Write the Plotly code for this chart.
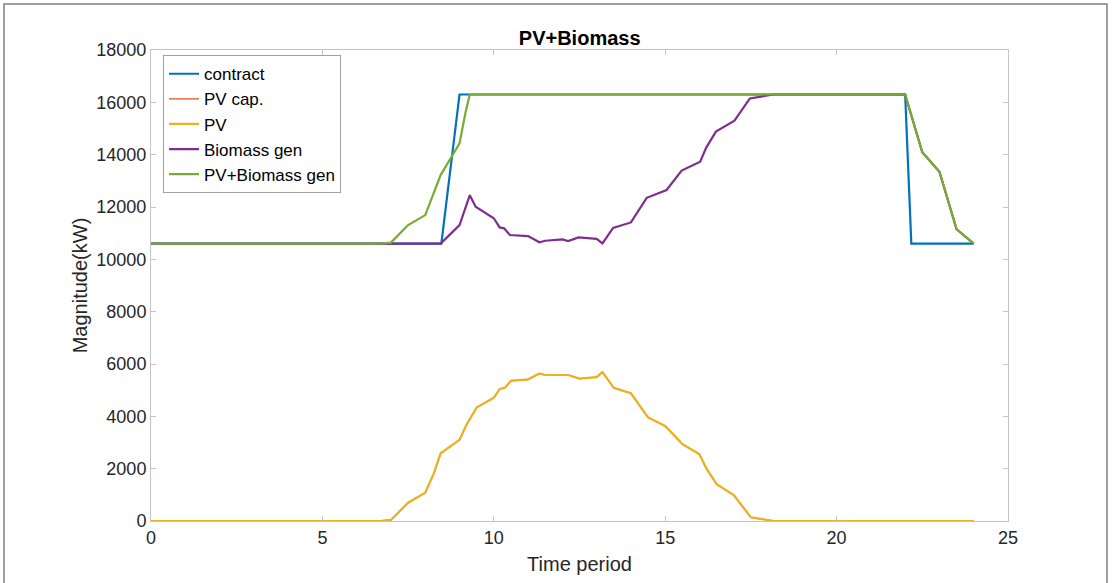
import plotly.graph_objects as go

# ---- data ----
contract_t = [0, 8.47, 9.0, 22.0, 22.18, 24.0]
contract_v = [10600, 10600, 16300, 16300, 10600, 10600]

pv_t = [0, 6.67, 7.0, 7.5, 8.0, 8.25, 8.45, 9.0, 9.2, 9.5, 10.0, 10.17, 10.33, 10.5,
        11.0, 11.33, 11.5, 12.0, 12.17, 12.5, 13.0, 13.17, 13.5, 14.0, 14.5, 15.0,
        15.5, 16.0, 16.2, 16.5, 17.0, 17.5, 18.17, 24.0]
pv_v = [0, 0, 40, 700, 1080, 1820, 2590, 3100, 3670, 4340, 4710, 5040, 5100, 5360,
        5410, 5640, 5580, 5570, 5580, 5440, 5500, 5690, 5090, 4880, 3960, 3630,
        2940, 2550, 2010, 1410, 990, 140, 0, 0]

pvcap_t = [0, 6.67, 7.0, 7.5, 8.0, 8.25, 8.45, 9.0, 9.2, 9.5, 10.0, 10.17, 10.33, 10.5,
           11.0, 11.33, 11.5, 12.0, 12.17, 12.5, 13.0, 13.17, 13.5, 14.0, 14.5, 15.0,
           15.5, 16.0, 16.2, 16.5, 17.0, 17.5, 18.17, 24.0]
pvcap_v = [0, 0, 40, 700, 1080, 1820, 2590, 3100, 3670, 4340, 4710, 5040, 5100, 5360,
           5410, 5640, 5580, 5570, 5580, 5440, 5500, 5690, 5090, 4880, 3960, 3630,
           2940, 2550, 2010, 1410, 990, 140, 0, 0]

bio_t = [0, 8.45, 9.0, 9.3, 9.47, 10.0, 10.17, 10.3, 10.47, 11.0, 11.33, 11.5, 12.0,
         12.17, 12.47, 13.0, 13.17, 13.48, 14.0, 14.46, 15.04, 15.48, 16.02, 16.2,
         16.48, 17.02, 17.47, 18.15, 22.0, 22.5, 23.0, 23.5, 24.0]
bio_v = [10600, 10600, 11310, 12450, 12010, 11570, 11220, 11185, 10930, 10890, 10650,
         10710, 10760, 10700, 10840, 10780, 10610, 11200, 11410, 12350, 12650, 13390,
         13730, 14280, 14880, 15300, 16150, 16300, 16300, 14090, 13350, 11150, 10600]

total_t = [0, 6.67, 7.0, 7.5, 8.0, 8.25, 8.45, 9.0, 9.17, 9.3, 22.0, 22.5, 23.0, 23.5, 24.0]
total_v = [10600, 10600, 10640, 11310, 11690, 12520, 13220, 14430, 15580, 16300, 16300,
           14090, 13350, 11150, 10600]

x_ticks = [0, 5, 10, 15, 20, 25]
x_labels = ["0", "5", "10", "15", "20", "25"]
y_ticks = [0, 2000, 4000, 6000, 8000, 10000, 12000, 14000, 16000, 18000]
y_labels = ["0", "2000", "4000", "6000", "8000", "10000", "12000", "14000", "16000", "18000"]

series = [
    ("contract", contract_t, contract_v, "#0072BD", 2.2),
    ("PV cap.", pvcap_t, pvcap_v, "#D95319", 1.4),
    ("PV", pv_t, pv_v, "#EDB120", 2.2),
    ("Biomass gen", bio_t, bio_v, "#7E2F8E", 2.2),
    ("PV+Biomass gen", total_t, total_v, "#77AC30", 2.2),
]

fig = go.Figure()
for name, t, v, c, w in series:
    fig.add_trace(go.Scatter(x=t, y=v, mode="lines", name=name,
                             line=dict(color=c, width=w)))

axis_common = dict(showline=True, linecolor="#c4c4c4", linewidth=1, mirror="ticks",
                   ticks="inside", ticklen=5, tickcolor="#c4c4c4", showgrid=False,
                   zeroline=False,
                   tickfont=dict(family="Liberation Sans, Arial", size=18, color="#262626"))

fig.update_layout(
    width=1112, height=583,
    margin=dict(l=151, r=104, t=50, b=62),
    paper_bgcolor="white", plot_bgcolor="white",
    font=dict(family="Liberation Sans, Arial", color="#262626"),
    title=dict(text="<b>PV+Biomass</b>", x=0.5213, xanchor="center", y=0.935, yanchor="middle",
               font=dict(size=20, color="black")),
    xaxis=dict(range=[0, 25], tickmode="array", tickvals=x_ticks, ticktext=x_labels,
               title=dict(text="Time period", font=dict(size=20, color="#262626"), standoff=10),
               **axis_common),
    yaxis=dict(range=[0, 18000], tickmode="array", tickvals=y_ticks, ticktext=y_labels,
               title=dict(text="Magnitude(kW)", font=dict(size=20, color="#262626"), standoff=3),
               **axis_common),
    legend=dict(x=0.014, y=0.989, xanchor="left", yanchor="top",
                bgcolor="white", bordercolor="#a0a0a0", borderwidth=1,
                font=dict(size=17, color="black"), tracegroupgap=0,
                itemwidth=30),
    showlegend=True,
    shapes=[dict(type="rect", xref="paper", yref="paper",
                 x0=(4 - 151) / 857, x1=(1107 - 151) / 857,
                 y0=(521 - 586) / 471, y1=(521 - 4) / 471,
                 line=dict(color="#808080", width=1.5), fillcolor="rgba(0,0,0,0)",
                 layer="below")],
)

fig.write_html("out.html")
